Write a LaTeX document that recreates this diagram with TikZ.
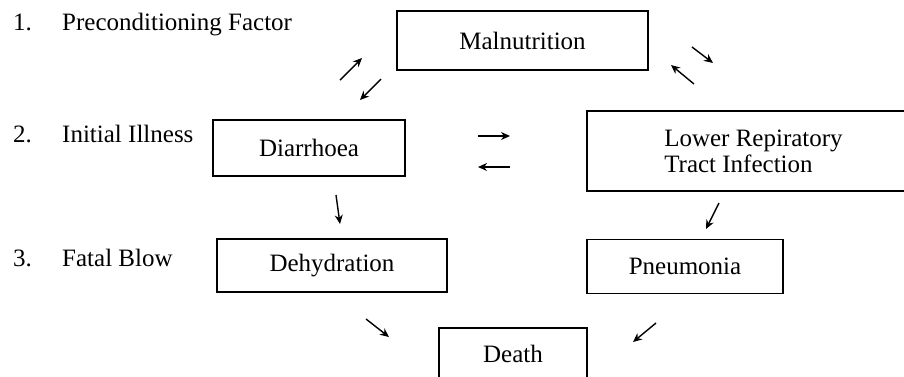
\documentclass[tikz,border=0pt]{standalone}
\usepackage{fontspec}
\setmainfont{Liberation Serif}
\usetikzlibrary{arrows.meta}
\begin{document}
\begin{tikzpicture}[x=1pt,y=-1pt,
  txt/.style={font=\fontsize{25}{26}\selectfont},
  box/.style={draw, line width=1.5pt, inner sep=0pt, txt},
  lbl/.style={anchor=base west, inner sep=0pt, txt},
  arr/.style={line width=1.4pt, -{Stealth[length=9pt,width=8pt]}}]
\useasboundingbox (0,0) rectangle (904,376);
\clip (0,0) rectangle (904,376);
\fill[white] (0,0) rectangle (904,376);

% level labels
\node[lbl] (n1) at (13,30) {1.};
\node[lbl] (t1) at (62,30) {Preconditioning Factor};
\node[lbl] (n2) at (13,142) {2.};
\node[lbl] (t2) at (62,142) {Initial Illness};
\node[lbl] (n3) at (13,266) {3.};
\node[lbl] (t3) at (62,266) {Fatal Blow};

% boxes
\node[box, minimum width=251pt, minimum height=59pt] (mal) at (522.5,40.5) {Malnutrition};
\node[box, minimum width=192pt, minimum height=56pt] (dia) at (309,148) {Diarrhoea};
\node[box, minimum width=333pt, minimum height=80pt, align=left] (lrti) at (753.5,151) {Lower Repiratory\\Tract Infection};
\node[box, minimum width=230pt, minimum height=53pt] (deh) at (332,265.5) {Dehydration};
\node[box, minimum width=196pt, minimum height=54pt] (pne) at (685,266.5) {Pneumonia};
\node[box, minimum width=148pt, minimum height=52pt] (dea) at (513,354) {Death};

% arrow end points
\coordinate (a1s) at (340,80);  \coordinate (a1e) at (362,58);
\coordinate (a2s) at (381,79);  \coordinate (a2e) at (360,100);
\coordinate (a3s) at (692,47);  \coordinate (a3e) at (713,63);
\coordinate (a4s) at (694,84);  \coordinate (a4e) at (671,65);
\coordinate (a5s) at (478,136); \coordinate (a5e) at (510,136);
\coordinate (a6s) at (510,167); \coordinate (a6e) at (478,167);
\coordinate (a7s) at (336,195); \coordinate (a7e) at (340,224);
\coordinate (a8s) at (719,203); \coordinate (a8e) at (706,229);
\coordinate (a9s) at (366,319); \coordinate (a9e) at (389,337);
\coordinate (a10s) at (656,323); \coordinate (a10e) at (633,342);

\draw[arr] (a1s) -- (a1e);
\draw[arr] (a2s) -- (a2e);
\draw[arr] (a3s) -- (a3e);
\draw[arr] (a4s) -- (a4e);
\draw[arr] (a5s) -- (a5e);
\draw[arr] (a6s) -- (a6e);
\draw[arr] (a7s) -- (a7e);
\draw[arr] (a8s) -- (a8e);
\draw[arr] (a9s) -- (a9e);
\draw[arr] (a10s) -- (a10e);
\end{tikzpicture}
\end{document}
